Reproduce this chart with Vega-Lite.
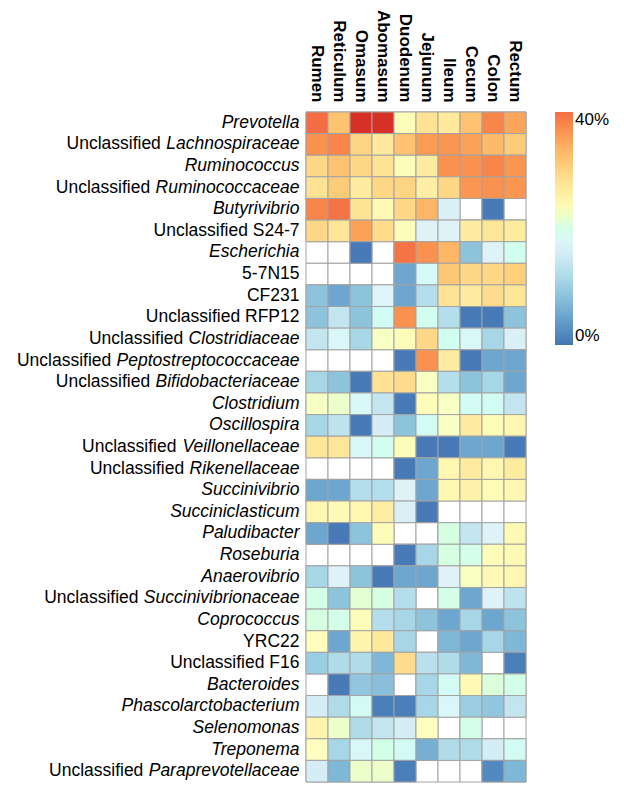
{
  "$schema": "https://vega.github.io/schema/vega-lite/v6.json",
  "width": 220,
  "height": 670,
  "autosize": {"type": "none"},
  "padding": {"left": 306, "top": 112, "right": 98, "bottom": 12},
  "background": "white",
  "config": {"view": {"stroke": null}, "font": "Liberation Sans"},
  "data": {"values": [
    {"taxon":"*Prevotella*","site":"Rumen","pct":40},{"taxon":"*Prevotella*","site":"Reticulum","pct":32},{"taxon":"*Prevotella*","site":"Omasum","pct":48},{"taxon":"*Prevotella*","site":"Abomasum","pct":47},{"taxon":"*Prevotella*","site":"Duodenum","pct":23.5},{"taxon":"*Prevotella*","site":"Jejunum","pct":28},{"taxon":"*Prevotella*","site":"Ileum","pct":27},{"taxon":"*Prevotella*","site":"Cecum","pct":32},{"taxon":"*Prevotella*","site":"Colon","pct":38},{"taxon":"*Prevotella*","site":"Rectum","pct":35},
    {"taxon":"Unclassified *Lachnospiraceae*","site":"Rumen","pct":37},{"taxon":"Unclassified *Lachnospiraceae*","site":"Reticulum","pct":38},{"taxon":"Unclassified *Lachnospiraceae*","site":"Omasum","pct":30},{"taxon":"Unclassified *Lachnospiraceae*","site":"Abomasum","pct":27},{"taxon":"Unclassified *Lachnospiraceae*","site":"Duodenum","pct":32},{"taxon":"Unclassified *Lachnospiraceae*","site":"Jejunum","pct":36},{"taxon":"Unclassified *Lachnospiraceae*","site":"Ileum","pct":36.5},{"taxon":"Unclassified *Lachnospiraceae*","site":"Cecum","pct":35.5},{"taxon":"Unclassified *Lachnospiraceae*","site":"Colon","pct":33},{"taxon":"Unclassified *Lachnospiraceae*","site":"Rectum","pct":31},
    {"taxon":"*Ruminococcus*","site":"Rumen","pct":29.5},{"taxon":"*Ruminococcus*","site":"Reticulum","pct":32},{"taxon":"*Ruminococcus*","site":"Omasum","pct":29.5},{"taxon":"*Ruminococcus*","site":"Abomasum","pct":28},{"taxon":"*Ruminococcus*","site":"Duodenum","pct":23.5},{"taxon":"*Ruminococcus*","site":"Jejunum","pct":26.5},{"taxon":"*Ruminococcus*","site":"Ileum","pct":37},{"taxon":"*Ruminococcus*","site":"Cecum","pct":37},{"taxon":"*Ruminococcus*","site":"Colon","pct":38},{"taxon":"*Ruminococcus*","site":"Rectum","pct":36.5},
    {"taxon":"Unclassified *Ruminococcaceae*","site":"Rumen","pct":28},{"taxon":"Unclassified *Ruminococcaceae*","site":"Reticulum","pct":31},{"taxon":"Unclassified *Ruminococcaceae*","site":"Omasum","pct":26.5},{"taxon":"Unclassified *Ruminococcaceae*","site":"Abomasum","pct":29.5},{"taxon":"Unclassified *Ruminococcaceae*","site":"Duodenum","pct":30},{"taxon":"Unclassified *Ruminococcaceae*","site":"Jejunum","pct":26},{"taxon":"Unclassified *Ruminococcaceae*","site":"Ileum","pct":29.5},{"taxon":"Unclassified *Ruminococcaceae*","site":"Cecum","pct":36.5},{"taxon":"Unclassified *Ruminococcaceae*","site":"Colon","pct":37},{"taxon":"Unclassified *Ruminococcaceae*","site":"Rectum","pct":36.5},
    {"taxon":"*Butyrivibrio*","site":"Rumen","pct":38},{"taxon":"*Butyrivibrio*","site":"Reticulum","pct":39.5},{"taxon":"*Butyrivibrio*","site":"Omasum","pct":28},{"taxon":"*Butyrivibrio*","site":"Abomasum","pct":24},{"taxon":"*Butyrivibrio*","site":"Duodenum","pct":29.5},{"taxon":"*Butyrivibrio*","site":"Jejunum","pct":33.5},{"taxon":"*Butyrivibrio*","site":"Ileum","pct":16.5},{"taxon":"*Butyrivibrio*","site":"Cecum","pct":null},{"taxon":"*Butyrivibrio*","site":"Colon","pct":0.5},{"taxon":"*Butyrivibrio*","site":"Rectum","pct":null},
    {"taxon":"Unclassified S24-7","site":"Rumen","pct":29.5},{"taxon":"Unclassified S24-7","site":"Reticulum","pct":27.5},{"taxon":"Unclassified S24-7","site":"Omasum","pct":35.5},{"taxon":"Unclassified S24-7","site":"Abomasum","pct":29},{"taxon":"Unclassified S24-7","site":"Duodenum","pct":23.5},{"taxon":"Unclassified S24-7","site":"Jejunum","pct":17},{"taxon":"Unclassified S24-7","site":"Ileum","pct":17},{"taxon":"Unclassified S24-7","site":"Cecum","pct":26.5},{"taxon":"Unclassified S24-7","site":"Colon","pct":27.5},{"taxon":"Unclassified S24-7","site":"Rectum","pct":26.5},
    {"taxon":"*Escherichia*","site":"Rumen","pct":null},{"taxon":"*Escherichia*","site":"Reticulum","pct":null},{"taxon":"*Escherichia*","site":"Omasum","pct":0.5},{"taxon":"*Escherichia*","site":"Abomasum","pct":null},{"taxon":"*Escherichia*","site":"Duodenum","pct":39.5},{"taxon":"*Escherichia*","site":"Jejunum","pct":37},{"taxon":"*Escherichia*","site":"Ileum","pct":33.5},{"taxon":"*Escherichia*","site":"Cecum","pct":8.5},{"taxon":"*Escherichia*","site":"Colon","pct":17},{"taxon":"*Escherichia*","site":"Rectum","pct":19.5},
    {"taxon":"5-7N15","site":"Rumen","pct":null},{"taxon":"5-7N15","site":"Reticulum","pct":null},{"taxon":"5-7N15","site":"Omasum","pct":null},{"taxon":"5-7N15","site":"Abomasum","pct":null},{"taxon":"5-7N15","site":"Duodenum","pct":5},{"taxon":"5-7N15","site":"Jejunum","pct":18.5},{"taxon":"5-7N15","site":"Ileum","pct":31.5},{"taxon":"5-7N15","site":"Cecum","pct":29.5},{"taxon":"5-7N15","site":"Colon","pct":29.5},{"taxon":"5-7N15","site":"Rectum","pct":30.5},
    {"taxon":"CF231","site":"Rumen","pct":8.5},{"taxon":"CF231","site":"Reticulum","pct":5},{"taxon":"CF231","site":"Omasum","pct":8.5},{"taxon":"CF231","site":"Abomasum","pct":17.5},{"taxon":"CF231","site":"Duodenum","pct":5},{"taxon":"CF231","site":"Jejunum","pct":12.5},{"taxon":"CF231","site":"Ileum","pct":28},{"taxon":"CF231","site":"Cecum","pct":26.5},{"taxon":"CF231","site":"Colon","pct":29},{"taxon":"CF231","site":"Rectum","pct":27.5},
    {"taxon":"Unclassified RFP12","site":"Rumen","pct":8.5},{"taxon":"Unclassified RFP12","site":"Reticulum","pct":14},{"taxon":"Unclassified RFP12","site":"Omasum","pct":8.5},{"taxon":"Unclassified RFP12","site":"Abomasum","pct":19},{"taxon":"Unclassified RFP12","site":"Duodenum","pct":37},{"taxon":"Unclassified RFP12","site":"Jejunum","pct":19.5},{"taxon":"Unclassified RFP12","site":"Ileum","pct":12.5},{"taxon":"Unclassified RFP12","site":"Cecum","pct":0.5},{"taxon":"Unclassified RFP12","site":"Colon","pct":0.5},{"taxon":"Unclassified RFP12","site":"Rectum","pct":8.5},
    {"taxon":"Unclassified *Clostridiaceae*","site":"Rumen","pct":14},{"taxon":"Unclassified *Clostridiaceae*","site":"Reticulum","pct":18},{"taxon":"Unclassified *Clostridiaceae*","site":"Omasum","pct":11},{"taxon":"Unclassified *Clostridiaceae*","site":"Abomasum","pct":22.5},{"taxon":"Unclassified *Clostridiaceae*","site":"Duodenum","pct":23.5},{"taxon":"Unclassified *Clostridiaceae*","site":"Jejunum","pct":29.5},{"taxon":"Unclassified *Clostridiaceae*","site":"Ileum","pct":19.5},{"taxon":"Unclassified *Clostridiaceae*","site":"Cecum","pct":18},{"taxon":"Unclassified *Clostridiaceae*","site":"Colon","pct":11},{"taxon":"Unclassified *Clostridiaceae*","site":"Rectum","pct":16.5},
    {"taxon":"Unclassified *Peptostreptococcaceae*","site":"Rumen","pct":null},{"taxon":"Unclassified *Peptostreptococcaceae*","site":"Reticulum","pct":null},{"taxon":"Unclassified *Peptostreptococcaceae*","site":"Omasum","pct":null},{"taxon":"Unclassified *Peptostreptococcaceae*","site":"Abomasum","pct":null},{"taxon":"Unclassified *Peptostreptococcaceae*","site":"Duodenum","pct":0.5},{"taxon":"Unclassified *Peptostreptococcaceae*","site":"Jejunum","pct":37},{"taxon":"Unclassified *Peptostreptococcaceae*","site":"Ileum","pct":26.5},{"taxon":"Unclassified *Peptostreptococcaceae*","site":"Cecum","pct":0.5},{"taxon":"Unclassified *Peptostreptococcaceae*","site":"Colon","pct":5},{"taxon":"Unclassified *Peptostreptococcaceae*","site":"Rectum","pct":5},
    {"taxon":"Unclassified *Bifidobacteriaceae*","site":"Rumen","pct":11},{"taxon":"Unclassified *Bifidobacteriaceae*","site":"Reticulum","pct":8.5},{"taxon":"Unclassified *Bifidobacteriaceae*","site":"Omasum","pct":0.5},{"taxon":"Unclassified *Bifidobacteriaceae*","site":"Abomasum","pct":28},{"taxon":"Unclassified *Bifidobacteriaceae*","site":"Duodenum","pct":29},{"taxon":"Unclassified *Bifidobacteriaceae*","site":"Jejunum","pct":22.5},{"taxon":"Unclassified *Bifidobacteriaceae*","site":"Ileum","pct":12.5},{"taxon":"Unclassified *Bifidobacteriaceae*","site":"Cecum","pct":8.5},{"taxon":"Unclassified *Bifidobacteriaceae*","site":"Colon","pct":11},{"taxon":"Unclassified *Bifidobacteriaceae*","site":"Rectum","pct":5},
    {"taxon":"*Clostridium*","site":"Rumen","pct":22.5},{"taxon":"*Clostridium*","site":"Reticulum","pct":22},{"taxon":"*Clostridium*","site":"Omasum","pct":18},{"taxon":"*Clostridium*","site":"Abomasum","pct":14},{"taxon":"*Clostridium*","site":"Duodenum","pct":0.5},{"taxon":"*Clostridium*","site":"Jejunum","pct":23.5},{"taxon":"*Clostridium*","site":"Ileum","pct":22.5},{"taxon":"*Clostridium*","site":"Cecum","pct":19},{"taxon":"*Clostridium*","site":"Colon","pct":19},{"taxon":"*Clostridium*","site":"Rectum","pct":14},
    {"taxon":"*Oscillospira*","site":"Rumen","pct":11},{"taxon":"*Oscillospira*","site":"Reticulum","pct":13.5},{"taxon":"*Oscillospira*","site":"Omasum","pct":0.5},{"taxon":"*Oscillospira*","site":"Abomasum","pct":16},{"taxon":"*Oscillospira*","site":"Duodenum","pct":8.5},{"taxon":"*Oscillospira*","site":"Jejunum","pct":19},{"taxon":"*Oscillospira*","site":"Ileum","pct":22.5},{"taxon":"*Oscillospira*","site":"Cecum","pct":26.5},{"taxon":"*Oscillospira*","site":"Colon","pct":23.5},{"taxon":"*Oscillospira*","site":"Rectum","pct":24.5},
    {"taxon":"Unclassified *Veillonellaceae*","site":"Rumen","pct":27.5},{"taxon":"Unclassified *Veillonellaceae*","site":"Reticulum","pct":27.5},{"taxon":"Unclassified *Veillonellaceae*","site":"Omasum","pct":18},{"taxon":"Unclassified *Veillonellaceae*","site":"Abomasum","pct":19.5},{"taxon":"Unclassified *Veillonellaceae*","site":"Duodenum","pct":23.5},{"taxon":"Unclassified *Veillonellaceae*","site":"Jejunum","pct":0.5},{"taxon":"Unclassified *Veillonellaceae*","site":"Ileum","pct":0.5},{"taxon":"Unclassified *Veillonellaceae*","site":"Cecum","pct":5},{"taxon":"Unclassified *Veillonellaceae*","site":"Colon","pct":5},{"taxon":"Unclassified *Veillonellaceae*","site":"Rectum","pct":0.5},
    {"taxon":"Unclassified *Rikenellaceae*","site":"Rumen","pct":null},{"taxon":"Unclassified *Rikenellaceae*","site":"Reticulum","pct":null},{"taxon":"Unclassified *Rikenellaceae*","site":"Omasum","pct":null},{"taxon":"Unclassified *Rikenellaceae*","site":"Abomasum","pct":null},{"taxon":"Unclassified *Rikenellaceae*","site":"Duodenum","pct":0.5},{"taxon":"Unclassified *Rikenellaceae*","site":"Jejunum","pct":5},{"taxon":"Unclassified *Rikenellaceae*","site":"Ileum","pct":24.5},{"taxon":"Unclassified *Rikenellaceae*","site":"Cecum","pct":26.5},{"taxon":"Unclassified *Rikenellaceae*","site":"Colon","pct":24.5},{"taxon":"Unclassified *Rikenellaceae*","site":"Rectum","pct":26.5},
    {"taxon":"*Succinivibrio*","site":"Rumen","pct":5},{"taxon":"*Succinivibrio*","site":"Reticulum","pct":5},{"taxon":"*Succinivibrio*","site":"Omasum","pct":12.5},{"taxon":"*Succinivibrio*","site":"Abomasum","pct":12.5},{"taxon":"*Succinivibrio*","site":"Duodenum","pct":17},{"taxon":"*Succinivibrio*","site":"Jejunum","pct":5},{"taxon":"*Succinivibrio*","site":"Ileum","pct":24.5},{"taxon":"*Succinivibrio*","site":"Cecum","pct":25.5},{"taxon":"*Succinivibrio*","site":"Colon","pct":23.5},{"taxon":"*Succinivibrio*","site":"Rectum","pct":24.5},
    {"taxon":"*Succiniclasticum*","site":"Rumen","pct":24.5},{"taxon":"*Succiniclasticum*","site":"Reticulum","pct":24},{"taxon":"*Succiniclasticum*","site":"Omasum","pct":24.5},{"taxon":"*Succiniclasticum*","site":"Abomasum","pct":26},{"taxon":"*Succiniclasticum*","site":"Duodenum","pct":16.5},{"taxon":"*Succiniclasticum*","site":"Jejunum","pct":0.5},{"taxon":"*Succiniclasticum*","site":"Ileum","pct":null},{"taxon":"*Succiniclasticum*","site":"Cecum","pct":null},{"taxon":"*Succiniclasticum*","site":"Colon","pct":null},{"taxon":"*Succiniclasticum*","site":"Rectum","pct":null},
    {"taxon":"*Paludibacter*","site":"Rumen","pct":5},{"taxon":"*Paludibacter*","site":"Reticulum","pct":0.5},{"taxon":"*Paludibacter*","site":"Omasum","pct":8.5},{"taxon":"*Paludibacter*","site":"Abomasum","pct":23.5},{"taxon":"*Paludibacter*","site":"Duodenum","pct":null},{"taxon":"*Paludibacter*","site":"Jejunum","pct":null},{"taxon":"*Paludibacter*","site":"Ileum","pct":20.5},{"taxon":"*Paludibacter*","site":"Cecum","pct":14},{"taxon":"*Paludibacter*","site":"Colon","pct":17},{"taxon":"*Paludibacter*","site":"Rectum","pct":24},
    {"taxon":"*Roseburia*","site":"Rumen","pct":null},{"taxon":"*Roseburia*","site":"Reticulum","pct":null},{"taxon":"*Roseburia*","site":"Omasum","pct":null},{"taxon":"*Roseburia*","site":"Abomasum","pct":null},{"taxon":"*Roseburia*","site":"Duodenum","pct":0.5},{"taxon":"*Roseburia*","site":"Jejunum","pct":11},{"taxon":"*Roseburia*","site":"Ileum","pct":20.5},{"taxon":"*Roseburia*","site":"Cecum","pct":20},{"taxon":"*Roseburia*","site":"Colon","pct":23.5},{"taxon":"*Roseburia*","site":"Rectum","pct":24},
    {"taxon":"*Anaerovibrio*","site":"Rumen","pct":11},{"taxon":"*Anaerovibrio*","site":"Reticulum","pct":17},{"taxon":"*Anaerovibrio*","site":"Omasum","pct":8.5},{"taxon":"*Anaerovibrio*","site":"Abomasum","pct":0.5},{"taxon":"*Anaerovibrio*","site":"Duodenum","pct":5},{"taxon":"*Anaerovibrio*","site":"Jejunum","pct":5},{"taxon":"*Anaerovibrio*","site":"Ileum","pct":17},{"taxon":"*Anaerovibrio*","site":"Cecum","pct":22.5},{"taxon":"*Anaerovibrio*","site":"Colon","pct":24},{"taxon":"*Anaerovibrio*","site":"Rectum","pct":24.5},
    {"taxon":"Unclassified *Succinivibrionaceae*","site":"Rumen","pct":20},{"taxon":"Unclassified *Succinivibrionaceae*","site":"Reticulum","pct":8.5},{"taxon":"Unclassified *Succinivibrionaceae*","site":"Omasum","pct":21.5},{"taxon":"Unclassified *Succinivibrionaceae*","site":"Abomasum","pct":20.5},{"taxon":"Unclassified *Succinivibrionaceae*","site":"Duodenum","pct":12.5},{"taxon":"Unclassified *Succinivibrionaceae*","site":"Jejunum","pct":null},{"taxon":"Unclassified *Succinivibrionaceae*","site":"Ileum","pct":20},{"taxon":"Unclassified *Succinivibrionaceae*","site":"Cecum","pct":5},{"taxon":"Unclassified *Succinivibrionaceae*","site":"Colon","pct":17},{"taxon":"Unclassified *Succinivibrionaceae*","site":"Rectum","pct":13.5},
    {"taxon":"*Coprococcus*","site":"Rumen","pct":20.5},{"taxon":"*Coprococcus*","site":"Reticulum","pct":20},{"taxon":"*Coprococcus*","site":"Omasum","pct":23.5},{"taxon":"*Coprococcus*","site":"Abomasum","pct":12.5},{"taxon":"*Coprococcus*","site":"Duodenum","pct":11},{"taxon":"*Coprococcus*","site":"Jejunum","pct":8.5},{"taxon":"*Coprococcus*","site":"Ileum","pct":5},{"taxon":"*Coprococcus*","site":"Cecum","pct":11},{"taxon":"*Coprococcus*","site":"Colon","pct":5},{"taxon":"*Coprococcus*","site":"Rectum","pct":8.5},
    {"taxon":"YRC22","site":"Rumen","pct":23},{"taxon":"YRC22","site":"Reticulum","pct":5},{"taxon":"YRC22","site":"Omasum","pct":25},{"taxon":"YRC22","site":"Abomasum","pct":27},{"taxon":"YRC22","site":"Duodenum","pct":11},{"taxon":"YRC22","site":"Jejunum","pct":null},{"taxon":"YRC22","site":"Ileum","pct":7},{"taxon":"YRC22","site":"Cecum","pct":5},{"taxon":"YRC22","site":"Colon","pct":11},{"taxon":"YRC22","site":"Rectum","pct":7},
    {"taxon":"Unclassified F16","site":"Rumen","pct":10},{"taxon":"Unclassified F16","site":"Reticulum","pct":12},{"taxon":"Unclassified F16","site":"Omasum","pct":12},{"taxon":"Unclassified F16","site":"Abomasum","pct":7},{"taxon":"Unclassified F16","site":"Duodenum","pct":29},{"taxon":"Unclassified F16","site":"Jejunum","pct":13},{"taxon":"Unclassified F16","site":"Ileum","pct":12},{"taxon":"Unclassified F16","site":"Cecum","pct":7},{"taxon":"Unclassified F16","site":"Colon","pct":null},{"taxon":"Unclassified F16","site":"Rectum","pct":1},
    {"taxon":"*Bacteroides*","site":"Rumen","pct":null},{"taxon":"*Bacteroides*","site":"Reticulum","pct":0.5},{"taxon":"*Bacteroides*","site":"Omasum","pct":9},{"taxon":"*Bacteroides*","site":"Abomasum","pct":8},{"taxon":"*Bacteroides*","site":"Duodenum","pct":null},{"taxon":"*Bacteroides*","site":"Jejunum","pct":11},{"taxon":"*Bacteroides*","site":"Ileum","pct":19},{"taxon":"*Bacteroides*","site":"Cecum","pct":24},{"taxon":"*Bacteroides*","site":"Colon","pct":21},{"taxon":"*Bacteroides*","site":"Rectum","pct":20},
    {"taxon":"*Phascolarctobacterium*","site":"Rumen","pct":16},{"taxon":"*Phascolarctobacterium*","site":"Reticulum","pct":12},{"taxon":"*Phascolarctobacterium*","site":"Omasum","pct":19},{"taxon":"*Phascolarctobacterium*","site":"Abomasum","pct":1},{"taxon":"*Phascolarctobacterium*","site":"Duodenum","pct":1},{"taxon":"*Phascolarctobacterium*","site":"Jejunum","pct":11},{"taxon":"*Phascolarctobacterium*","site":"Ileum","pct":18},{"taxon":"*Phascolarctobacterium*","site":"Cecum","pct":10},{"taxon":"*Phascolarctobacterium*","site":"Colon","pct":9},{"taxon":"*Phascolarctobacterium*","site":"Rectum","pct":14},
    {"taxon":"*Selenomonas*","site":"Rumen","pct":25},{"taxon":"*Selenomonas*","site":"Reticulum","pct":22},{"taxon":"*Selenomonas*","site":"Omasum","pct":12},{"taxon":"*Selenomonas*","site":"Abomasum","pct":14},{"taxon":"*Selenomonas*","site":"Duodenum","pct":16},{"taxon":"*Selenomonas*","site":"Jejunum","pct":23},{"taxon":"*Selenomonas*","site":"Ileum","pct":null},{"taxon":"*Selenomonas*","site":"Cecum","pct":20},{"taxon":"*Selenomonas*","site":"Colon","pct":null},{"taxon":"*Selenomonas*","site":"Rectum","pct":null},
    {"taxon":"*Treponema*","site":"Rumen","pct":23},{"taxon":"*Treponema*","site":"Reticulum","pct":11},{"taxon":"*Treponema*","site":"Omasum","pct":18},{"taxon":"*Treponema*","site":"Abomasum","pct":20},{"taxon":"*Treponema*","site":"Duodenum","pct":19},{"taxon":"*Treponema*","site":"Jejunum","pct":6},{"taxon":"*Treponema*","site":"Ileum","pct":12},{"taxon":"*Treponema*","site":"Cecum","pct":12},{"taxon":"*Treponema*","site":"Colon","pct":16},{"taxon":"*Treponema*","site":"Rectum","pct":19},
    {"taxon":"Unclassified *Paraprevotellaceae*","site":"Rumen","pct":16},{"taxon":"Unclassified *Paraprevotellaceae*","site":"Reticulum","pct":7},{"taxon":"Unclassified *Paraprevotellaceae*","site":"Omasum","pct":22},{"taxon":"Unclassified *Paraprevotellaceae*","site":"Abomasum","pct":22},{"taxon":"Unclassified *Paraprevotellaceae*","site":"Duodenum","pct":1},{"taxon":"Unclassified *Paraprevotellaceae*","site":"Jejunum","pct":null},{"taxon":"Unclassified *Paraprevotellaceae*","site":"Ileum","pct":null},{"taxon":"Unclassified *Paraprevotellaceae*","site":"Cecum","pct":null},{"taxon":"Unclassified *Paraprevotellaceae*","site":"Colon","pct":2},{"taxon":"Unclassified *Paraprevotellaceae*","site":"Rectum","pct":7}
  ]},
  "encoding": {
    "x": {
      "field": "site", "type": "nominal", "sort": null,
      "scale": {"paddingInner": 0, "paddingOuter": 0},
      "axis": {
        "orient": "top", "title": null, "domain": false, "ticks": false, "tickSize": 0,
        "labelAngle": 90, "labelAlign": "right", "labelBaseline": "middle",
        "labelPadding": 10, "labelFont": "Liberation Sans", "labelFontSize": 17,
        "labelFontWeight": "bold", "labelColor": "black", "labelLimit": 300
      }
    },
    "y": {
      "field": "taxon", "type": "nominal", "sort": null,
      "scale": {"paddingInner": 0, "paddingOuter": 0},
      "axis": {
        "title": null, "domain": false, "ticks": false, "tickSize": 0,
        "labelPadding": 7, "labelFont": "Liberation Sans", "labelFontSize": 17.5,
        "labelColor": "black", "labelLimit": 400,
        "labelExpr": "indexof(datum.value, '*') < 0 ? datum.value : replace(substring(datum.value, indexof(datum.value, '*')), /\\*/g, '')",
        "labelFontStyle": {"condition": {"test": "indexof(datum.value, '*') >= 0", "value": "italic"}, "value": "normal"}
      }
    }
  },
  "layer": [
    {"mark": {"type": "rect", "fill": "white", "stroke": "#a3a3a3", "strokeWidth": 1}},
    {
      "mark": {"type": "rect", "stroke": "#a3a3a3", "strokeWidth": 1},
      "encoding": {
        "color": {
          "condition": {"test": "datum.pct > 40", "value": "#d73027"},
          "field": "pct", "type": "quantitative",
          "scale": {
            "domain": [0, 5.714, 11.429, 17.143, 22.857, 28.571, 34.286, 40],
            "range": ["#4575b4", "#74add1", "#abd9e9", "#e0f3f8", "#ffffbf", "#fee090", "#fdae61", "#f46d43"]
          },
          "legend": {
            "title": null, "values": [0, 40], "labelExpr": "datum.value + '%'",
            "direction": "vertical", "gradientLength": 233, "gradientThickness": 18,
            "gradientStrokeWidth": 0, "labelFont": "Liberation Sans", "labelFontSize": 17,
            "labelColor": "black", "labelAlign": "right", "labelOffset": 2,
            "offset": 29, "padding": 0
          }
        }
      }
    },
    {
      "transform": [
        {"filter": "datum.site === 'Rumen' && indexof(datum.taxon, '*') > 0"},
        {"calculate": "trim(substring(datum.taxon, 0, indexof(datum.taxon, '*')))", "as": "prefix"},
        {"calculate": "replace(substring(datum.taxon, indexof(datum.taxon, '*')), /\\*/g, '')", "as": "suffix"}
      ],
      "mark": {
        "type": "text", "align": "right", "baseline": "middle",
        "font": "Liberation Sans", "fontSize": 17.5, "color": "black",
        "dx": {"expr": "-(7 + 0.0175 * (278 + 222*length(replace(datum.suffix, /[^ijl]/g, '')) + 278*length(replace(datum.suffix, /[^ftI]/g, '')) + 333*length(replace(datum.suffix, /[^r]/g, '')) + 500*length(replace(datum.suffix, /[^cksvxyzJ]/g, '')) + 556*length(replace(datum.suffix, /[^abdeghnopquL0-9]/g, '')) + 667*length(replace(datum.suffix, /[^ABEKPSVXY]/g, '')) + 722*length(replace(datum.suffix, /[^CDHNRUw]/g, '')) + 778*length(replace(datum.suffix, /[^GOQ]/g, '')) + 833*length(replace(datum.suffix, /[^mM]/g, '')) + 611*length(replace(datum.suffix, /[^FTZ]/g, ''))))"}
      },
      "encoding": {
        "x": {"field": "site", "type": "nominal", "sort": null, "bandPosition": 0},
        "text": {"field": "prefix"}
      }
    }
  ]
}
